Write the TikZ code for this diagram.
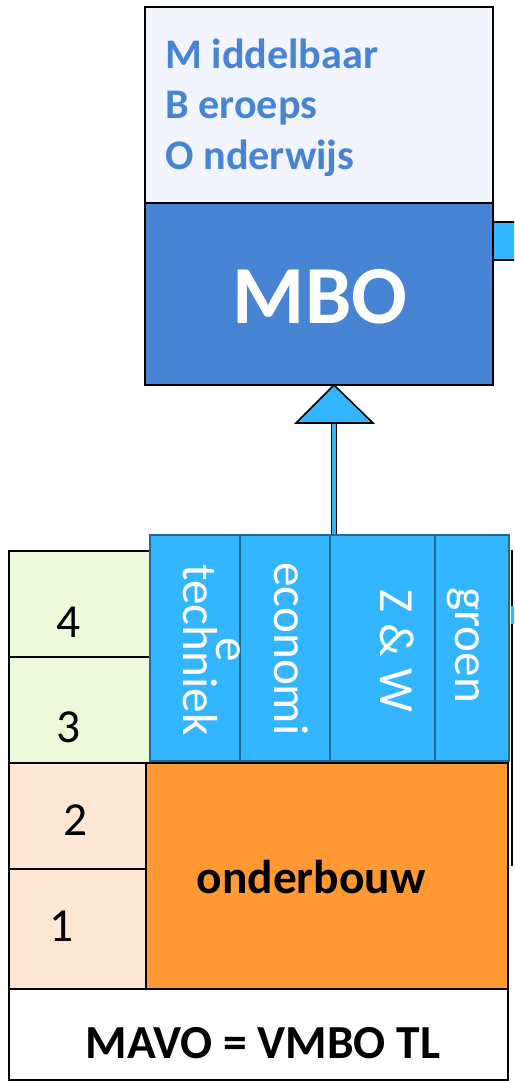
\documentclass[tikz,border=0pt]{standalone}
\usepackage{fontspec}
\setmainfont{Carlito}
\definecolor{lichtblauw}{HTML}{F2F5FE}
\definecolor{mboblauw}{HTML}{4784D3}
\definecolor{vakblauw}{HTML}{33B5FF}
\definecolor{vaklijn}{HTML}{1F6A94}
\definecolor{groenvak}{HTML}{EBFBD9}
\definecolor{perzik}{HTML}{FFE7D3}
\definecolor{oranje}{HTML}{FF9933}

\begin{document}
\begin{tikzpicture}[x=0.02cm, y=-0.02cm,
  rand/.style={line width=0.9pt},
  vak/.style={fill=vakblauw, draw=vaklijn, line width=1.2pt},
  jaar/.style={inner sep=0, font=\fontsize{27}{33}\selectfont},
  vaktekst/.style={anchor=base west, rotate=-90, inner sep=0, white, font=\fontsize{28}{34}\selectfont},
  mbotekst/.style={anchor=base west, inner sep=0, mboblauw, font=\fontsize{24}{29}\selectfont\bfseries}]
  \useasboundingbox (0,0) rectangle (514,1081);
  \clip (0,0) rectangle (514,1081);
  \coordinate (T1) at (145,7); %MBO 左上
  \coordinate (T2) at (493,203); %区切り 右
  \coordinate (T3) at (145,203); %区切り 左
  \coordinate (T4) at (493,385); %MBO 右下
  \filldraw[rand, fill=lichtblauw] (T1) rectangle (T2);
  \filldraw[rand, fill=mboblauw] (T3) rectangle (T4);
  \filldraw[rand, fill=vakblauw] (493,222) rectangle (525,260); %右の切れ端
  \node[mbotekst] (middel) at (165,69) {M iddelbaar};
  \node[mbotekst] (beroeps) at (165,119) {B eroeps};
  \node[mbotekst] (onderwijs) at (165,170) {O nderwijs};
  \node[anchor=base, inner sep=0, white, font=\fontsize{47}{56}\selectfont\bfseries] (mbo) at (320,323) {MBO};
  % 3-4 年
  \filldraw[rand, fill=groenvak] (9,551) rectangle (150,657);
  \filldraw[rand, fill=groenvak] (9,657) rectangle (150,763);
  \draw[rand] (512,550)--(512,866); %右端の線
  \fill[vakblauw] (511,606) rectangle (516,624);
  % 矢印
  \coordinate (tip) at (334,385); %先端
  \coordinate (tipL) at (296,423);
  \coordinate (tipR) at (373,423);
  \coordinate (tipM) at (334,423);
  \coordinate (vakT) at (334,535); %矢印の根元
  \draw[double=vakblauw, double distance=1.8pt, line width=0.7pt] (vakT)--(tipM);
  \filldraw[fill=vakblauw, line width=0.9pt, line join=miter] (tip)--(tipL)--(tipR)--cycle;
  % 部門
  \filldraw[vak] (150,535) rectangle (240,761);
  \filldraw[vak] (240,535) rectangle (330,761);
  \filldraw[vak] (330,535) rectangle (435,761);
  \filldraw[vak] (435,535) rectangle (509,761);
  \node[vaktekst] (techniek) at (183,564) {techniek};
  \node[vaktekst] (economi) at (274,562) {economi};
  \node[vaktekst] (econe) at (216,637) {e};
  \node[vaktekst] (zw) at (380,589) {Z \& W};
  \node[vaktekst] (groen) at (455,587) {groen};
  % 1-2 年
  \filldraw[rand, fill=perzik] (9,763) rectangle (146,869);
  \filldraw[rand, fill=perzik] (9,869) rectangle (146,989);
  \filldraw[rand, fill=oranje] (146,763) rectangle (508,989);
  \filldraw[rand, fill=white] (9,989) rectangle (508,1080);
  \node[jaar] (j4) at (69,622) {4};
  \node[jaar] (j3) at (69,727) {3};
  \node[jaar] (j2) at (76,820) {2};
  \node[jaar] (j1) at (62,926) {1};
  \node[anchor=base, inner sep=0, font=\fontsize{27}{33}\selectfont\bfseries] (onderbouw) at (311,893) {onderbouw};
  \node[anchor=base, inner sep=0, font=\fontsize{27}{33}\selectfont\bfseries] (mavo) at (263,1058) {MAVO = VMBO TL};
\end{tikzpicture}
\end{document}
